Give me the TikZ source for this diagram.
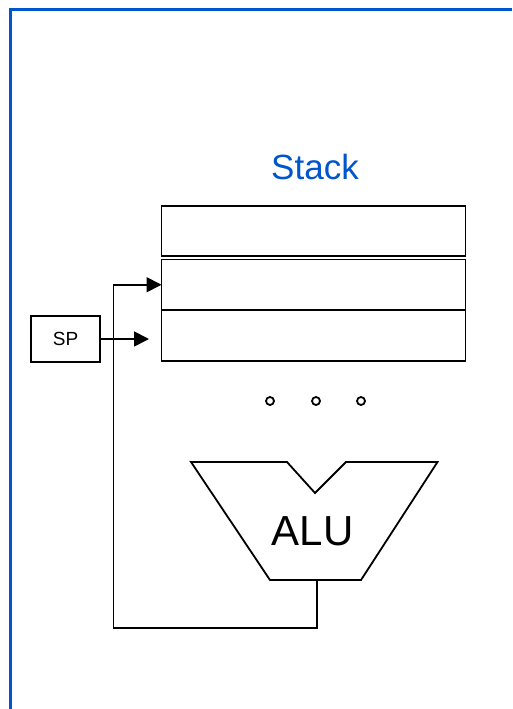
\documentclass[tikz,border=0pt]{standalone}
\usepackage{fontspec}
\setmainfont{Liberation Sans}
\usetikzlibrary{arrows.meta, positioning}
\definecolor{frameblue}{HTML}{0055CC}

\begin{document}
\begin{tikzpicture}[x=1pt, y=-1pt,
    every node/.style={font=\fontsize{19}{21}\selectfont},
    rowbox/.style={draw, line width=1.8pt, minimum width=304pt, minimum height=51pt, inner sep=0pt, outer sep=0pt},
    regbox/.style={draw, line width=1.8pt, minimum width=69pt, minimum height=46pt, inner sep=0pt, outer sep=0pt},
    wire/.style={line width=1.8pt},
    arr/.style={wire, -{Triangle[length=15pt, width=15pt]}}]
    \useasboundingbox (0,0) rectangle (512,709);
    \draw[frameblue, line width=2.3pt] (10.5,709) -- (10.5,9.5) -- (512,9.5);
    \node[anchor=base, text=frameblue, font=\fontsize{35}{40}\selectfont] (title) at (315,179) {Stack};
    \node[rowbox, minimum height=50pt] (row1) at (313.5,231) {};
    \node[rowbox, minimum height=50.5pt] (row2) at (313.5,284.75) {};
    \node[rowbox] (row3) at (313.5,335.75) {};
    \node[regbox] (sp) at (65.5,339) {SP};
    \foreach \x in {270,316,361}
      \draw[line width=1.8pt] (\x,401) circle (4pt);
    \draw[line width=1.8pt] (191,462) -- (287,462) -- (315,493) -- (346,462) -- (437.5,462)
      -- (361,580) -- (270,580) -- cycle;
    \node[anchor=base, font=\fontsize{42}{46}\selectfont] (alu) at (312.5,545) {ALU};
    \coordinate (aluout) at (317,580);
    \coordinate (loop) at (113.5,628);
    \coordinate (spin) at (149,339);
    \draw[arr] (sp.east) -- (spin);
    \draw[arr] (aluout) |- (loop) |- (row2.west);
  \end{tikzpicture}
\end{document}
